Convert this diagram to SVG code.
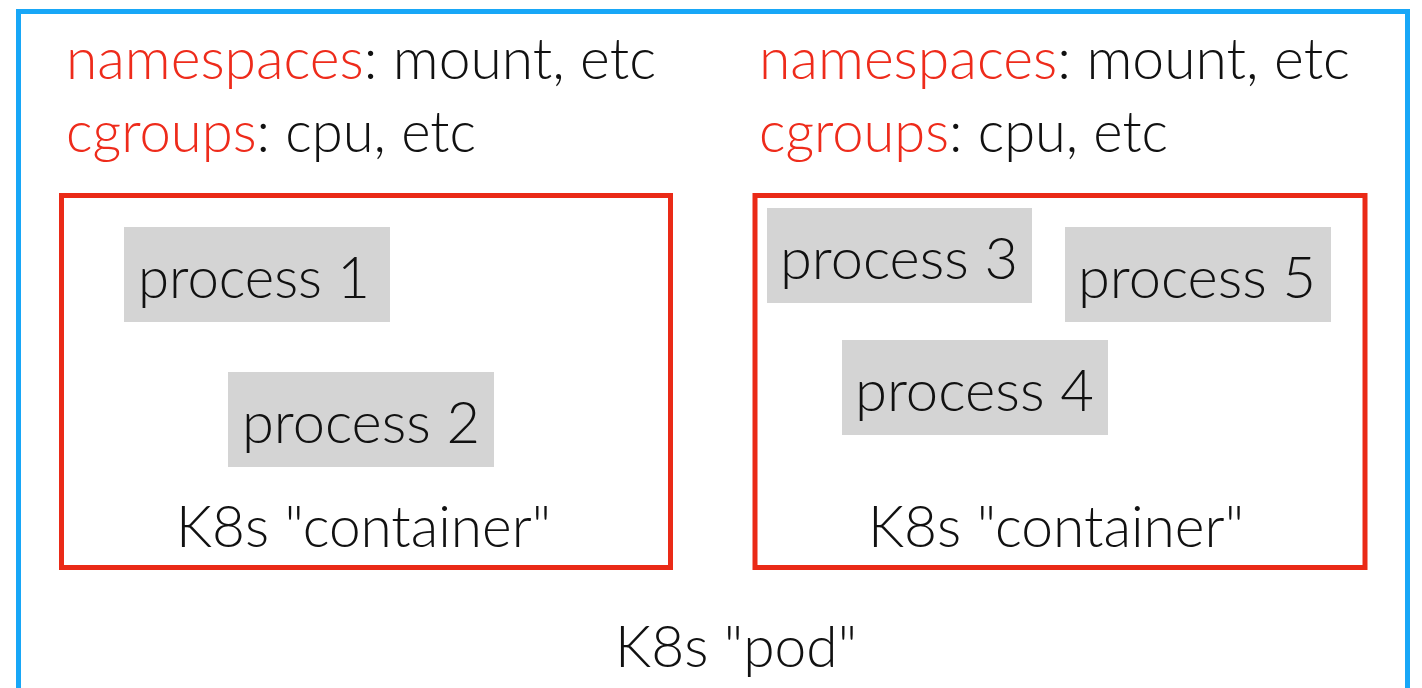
<svg xmlns="http://www.w3.org/2000/svg" width="1422" height="688" viewBox="0 0 1422 688">
<style>
.pod{fill:none;stroke:#18a7f7;stroke-width:5}
.ctr{fill:none;stroke:#ea2a17;stroke-width:5}
.proc{fill:#d4d4d4}
text{font-family:"Lato","Open Sans","Liberation Sans",sans-serif;font-weight:300;fill:#111;font-size:57px}
.red{fill:#ee2b1b}
</style>
<rect width="1422" height="688" fill="#fff"/>
<g id="pod">
<rect class="pod" x="18.5" y="11.5" width="1389" height="700"/>
<text x="736" y="667" text-anchor="middle" textLength="242" lengthAdjust="spacingAndGlyphs">K8s "pod"</text>
</g>
<g id="labels-left">
<text x="66" y="79" textLength="590" lengthAdjust="spacingAndGlyphs"><tspan class="red">namespaces</tspan>: mount, etc</text>
<text x="66" y="152" textLength="410" lengthAdjust="spacingAndGlyphs"><tspan class="red">cgroups</tspan>: cpu, etc</text>
</g>
<g id="labels-right">
<text x="759" y="79" textLength="591" lengthAdjust="spacingAndGlyphs"><tspan class="red">namespaces</tspan>: mount, etc</text>
<text x="759" y="152" textLength="409" lengthAdjust="spacingAndGlyphs"><tspan class="red">cgroups</tspan>: cpu, etc</text>
</g>
<g id="container1">
<rect class="ctr" x="61.5" y="195.5" width="609" height="372"/>
<text x="176" y="547" textLength="375" lengthAdjust="spacingAndGlyphs">K8s "container"</text>
</g>
<g id="container2">
<rect class="ctr" x="755" y="195.5" width="610" height="372"/>
<text x="868" y="547" textLength="376" lengthAdjust="spacingAndGlyphs">K8s "container"</text>
</g>
<g id="process1">
<rect class="proc" x="124" y="227" width="266" height="95"/>
<text x="138" y="298" textLength="232" lengthAdjust="spacingAndGlyphs">process 1</text>
</g>
<g id="process2">
<rect class="proc" x="228" y="372" width="266" height="95"/>
<text x="242" y="443" textLength="238" lengthAdjust="spacingAndGlyphs">process 2</text>
</g>
<g id="process3">
<rect class="proc" x="767" y="208" width="265" height="95"/>
<text x="780" y="279" textLength="238" lengthAdjust="spacingAndGlyphs">process 3</text>
</g>
<g id="process5">
<rect class="proc" x="1065" y="227" width="266" height="95"/>
<text x="1078" y="298" textLength="238" lengthAdjust="spacingAndGlyphs">process 5</text>
</g>
<g id="process4">
<rect class="proc" x="842" y="340" width="266" height="95"/>
<text x="855" y="411" textLength="239" lengthAdjust="spacingAndGlyphs">process 4</text>
</g>
<g id="connectors"></g>
</svg>
